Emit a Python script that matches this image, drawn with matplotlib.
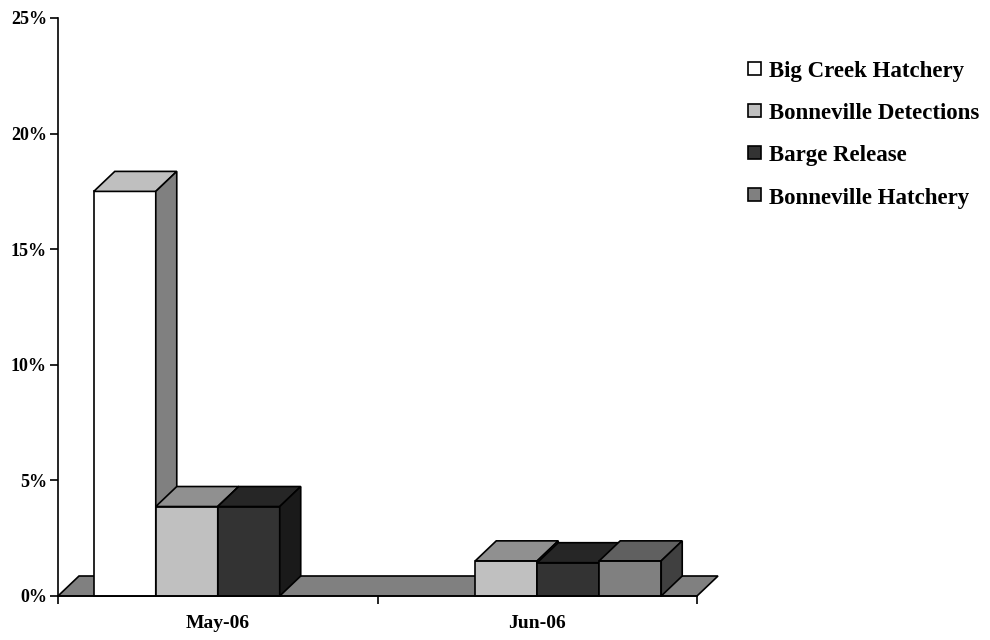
import matplotlib
matplotlib.use('Agg')
import matplotlib.pyplot as plt
from matplotlib.patches import Polygon, Rectangle

# data
categories = ['May-06', 'Jun-06']
series = ['Big Creek Hatchery', 'Bonneville Detections', 'Barge Release',
          'Bonneville Hatchery']
big_creek = [17.5, 0.0]
bonn_detect = [3.87, 1.52]
barge = [3.87, 1.44]
bonn_hatch = [0.0, 1.52]
y_ticks = [0, 5, 10, 15, 20, 25]
y_labels = ['0%', '5%', '10%', '15%', '20%', '25%']

colors = ['#ffffff', '#c0c0c0', '#333333', '#808080']

W, H = 990, 640
FONT = ['Liberation Serif', 'DejaVu Serif']


def shade(hex_color, f):
    r, g, b = matplotlib.colors.to_rgb(hex_color)
    return (r * f, g * f, b * f)


fig = plt.figure(figsize=(W / 100, H / 100), dpi=100)
ax = fig.add_axes([58 / W, (H - 596) / H, (697 - 58) / W, (596 - 18) / H])
ax.set_xlim(0, len(categories))
ax.set_ylim(0, 25)

# depth offset of the 3d look, in data units (21 px right, 20 px up)
dx = 21 / ((697 - 58) / len(categories))
dy = 20 / ((596 - 18) / 25)
bar_w = 0.194
lw = 1.2

# floor
n = len(categories)
ax.add_patch(Polygon([(0, 0), (n, 0), (n + dx, dy), (dx, dy)],
                     closed=True, facecolor='#808080', edgecolor='black',
                     linewidth=lw, clip_on=False, zorder=1))

values = [big_creek, bonn_detect, barge, bonn_hatch]
for j in range(n):
    for i, vals in enumerate(values):
        v = vals[j]
        if v <= 0:
            continue
        x0 = j + 0.5 - 2 * bar_w + i * bar_w
        c = colors[i]
        z = 2 + j * 10 + i
        ax.add_patch(Rectangle((x0, 0), bar_w, v, facecolor=c,
                               edgecolor='black', linewidth=lw,
                               clip_on=False, zorder=z))
        ax.add_patch(Polygon([(x0, v), (x0 + bar_w, v),
                              (x0 + bar_w + dx, v + dy), (x0 + dx, v + dy)],
                             closed=True, facecolor=shade(c, 0.75),
                             edgecolor='black', linewidth=lw,
                             joinstyle='miter', clip_on=False, zorder=z))
        ax.add_patch(Polygon([(x0 + bar_w, 0), (x0 + bar_w + dx, dy),
                              (x0 + bar_w + dx, v + dy), (x0 + bar_w, v)],
                             closed=True, facecolor=shade(c, 0.5),
                             edgecolor='black', linewidth=lw,
                             joinstyle='miter', clip_on=False, zorder=z))

# axes
for s in ['top', 'right']:
    ax.spines[s].set_visible(False)
for s in ['left', 'bottom']:
    ax.spines[s].set_linewidth(1.2)
    ax.spines[s].set_zorder(50)

ax.set_yticks(y_ticks)
ax.set_yticklabels(y_labels, fontfamily=FONT, fontweight='bold', fontsize=13)
ax.tick_params(axis='y', direction='out', length=6, width=1.2, pad=2)

ax.set_xticks(range(n + 1))
ax.set_xticklabels([])
ax.tick_params(axis='x', which='major', direction='out', length=6, width=1.2)
ax.set_xticks([j + 0.5 for j in range(n)], minor=True)
ax.set_xticklabels(categories, minor=True, fontfamily=FONT,
                   fontweight='bold', fontsize=14)
ax.tick_params(axis='x', which='minor', length=0, pad=14)

# legend
for i, name in enumerate(series):
    base = 77 + i * 42.2
    fig.patches.append(Rectangle((748 / W, 1 - (base - 2.5) / H), 13 / W,
                                 13 / H, transform=fig.transFigure,
                                 facecolor=colors[i], edgecolor='black',
                                 linewidth=1.2))
    fig.text(769 / W, 1 - base / H, name, fontfamily=FONT,
             fontweight='bold', fontsize=16.5, va='baseline', ha='left')

fig.savefig('out.png', dpi=100)
